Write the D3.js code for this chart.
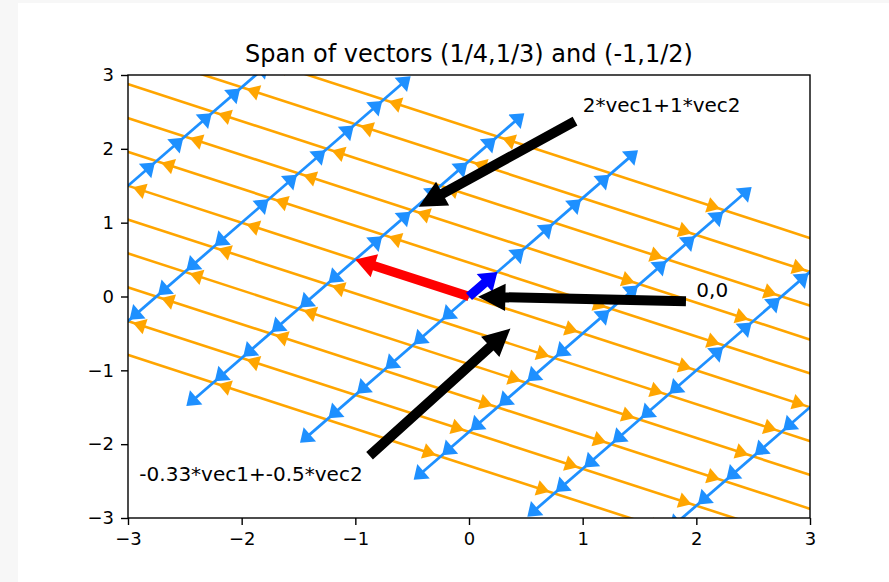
<!DOCTYPE html>
<html>
<head>
<meta charset="utf-8">
<script src="https://cdn.jsdelivr.net/npm/d3@7"></script>
<style>
  body { margin: 0; background: #f7f7f7; }
  svg { display: block; font-family: "DejaVu Sans", sans-serif; }
</style>
</head>
<body>
<svg id="chart" width="889" height="582"></svg>
<script>
// the two spanning vectors
var vec1 = [1/4, 1/3];
var vec2 = [-1, 1/2];

// multiples of vec2 that start a blue line, multiples of vec1 that start an orange line
var blueLines = [-5, -4, -3, -2, -1, 0, 1, 2, 3, 4, 5];
var orangeLines = [-5, -4, -3, -2, -1, 0, 1, 2, 3, 4, 5];
// arrow tips along each line (multiples of the line's own vector)
var blueSteps = [-6, -5, -4, -3, -2, -1, 1, 2, 3, 4, 5, 6];
var orangeSteps = [-6, -5, -4, -3, -2, -1, 1, 2, 3, 4, 5, 6];

var xTicks = [-3, -2, -1, 0, 1, 2, 3];
var yTicks = [-3, -2, -1, 0, 1, 2, 3];

var annotations = [
  {label: "2*vec1+1*vec2", c1: 2, c2: 1, tx: 1, ty: 2.5},
  {label: "0,0", c1: 0, c2: 0, tx: 2, ty: 0},
  {label: "-0.33*vec1+-0.5*vec2", c1: -0.33, c2: -0.5, tx: -2.9, ty: -2.5}
];

var margin = {left: 128, right: 79, top: 75, bottom: 64};
var W = 889, H = 582;

var xs = d3.scaleLinear().domain([-3, 3]).range([margin.left, W - margin.right]);
var ys = d3.scaleLinear().domain([-3, 3]).range([H - margin.bottom, margin.top]);

var svg = d3.select('#chart');

// white figure area (screenshot has a thin grey frame top/left)
svg.append('rect')
  .attr('x', 18).attr('y', 3)
  .attr('width', W - 18).attr('height', H - 3)
  .attr('fill', 'white');

svg.append('clipPath').attr('id', 'clip')
  .append('rect')
  .attr('x', xs(-3)).attr('y', ys(3))
  .attr('width', xs(3) - xs(-3)).attr('height', ys(-3) - ys(3));

function combo(a, b) {
  return [a * vec1[0] + b * vec2[0], a * vec1[1] + b * vec2[1]];
}
function toPx(p) { return [xs(p[0]), ys(p[1])]; }

// triangle head, tip pulled back by gap pixels from the target point
function head(tip, from, len, halfW, gap) {
  var dx = tip[0] - from[0], dy = tip[1] - from[1];
  var d = Math.hypot(dx, dy), ux = dx / d, uy = dy / d;
  var t = [tip[0] - ux * gap, tip[1] - uy * gap];
  var bx = t[0] - ux * len, by = t[1] - uy * len;
  return [t, [bx - uy * halfW, by + ux * halfW], [bx + uy * halfW, by - ux * halfW]];
}

var plot = svg.append('g').attr('clip-path', 'url(#clip)');

function drawFamily(lines, steps, lineCoef, color, gap, hLen, hHalf, lw) {
  var g = plot.append('g');
  lines.forEach(function(k) {
    var pt = function(s) { return lineCoef ? combo(k, s) : combo(s, k); };
    var lo = d3.min(steps), hi = d3.max(steps);
    var a = toPx(pt(lo)), b = toPx(pt(hi));
    var dx = b[0] - a[0], dy = b[1] - a[1], d = Math.hypot(dx, dy);
    var cut = gap + hLen / 2;
    g.append('line')
      .attr('x1', a[0] + dx / d * cut).attr('y1', a[1] + dy / d * cut)
      .attr('x2', b[0] - dx / d * cut).attr('y2', b[1] - dy / d * cut)
      .attr('stroke', color).attr('stroke-width', lw);
    g.selectAll(null)
      .data(steps)
      .enter()
      .append('polygon')
        .attr('points', function(s) {
          var tip = toPx(pt(s));
          var from = toPx(pt(s - Math.sign(s)));
          return head(tip, from, hLen, hHalf, gap).join(' ');
        })
        .attr('fill', color);
  });
}

// orange: along vec2, one line per multiple of vec1
drawFamily(orangeLines, orangeSteps, true, 'orange', 5, 13, 8, 2.6);
// blue: along vec1, one line per multiple of vec2
drawFamily(blueLines, blueSteps, false, 'dodgerblue', 2, 13, 9.5, 2.8);

// thick vectors from the origin
function thickArrow(vec, color, shaftHalf, headHalf, headLen) {
  var s = toPx([0, 0]), e = toPx(vec);
  var dx = e[0] - s[0], dy = e[1] - s[1], d = Math.hypot(dx, dy);
  var ux = dx / d, uy = dy / d, nx = -uy, ny = ux;
  var hx = e[0] - ux * headLen, hy = e[1] - uy * headLen;
  var pts = [
    [s[0] + nx * shaftHalf, s[1] + ny * shaftHalf],
    [hx + nx * shaftHalf, hy + ny * shaftHalf],
    [hx + nx * headHalf, hy + ny * headHalf],
    e,
    [hx - nx * headHalf, hy - ny * headHalf],
    [hx - nx * shaftHalf, hy - ny * shaftHalf],
    [s[0] - nx * shaftHalf, s[1] - ny * shaftHalf]
  ];
  plot.append('polygon').attr('points', pts.join(' ')).attr('fill', color);
}
thickArrow(vec2, 'red', 4.6, 12, 20);
thickArrow(vec1, 'blue', 4.6, 12, 17);

// axes frame
svg.append('rect')
  .attr('x', xs(-3)).attr('y', ys(3))
  .attr('width', xs(3) - xs(-3)).attr('height', ys(-3) - ys(3))
  .attr('fill', 'none').attr('stroke', 'black').attr('stroke-width', 1.4);

var fmt = function(d) { return d < 0 ? '\u2212' + Math.abs(d) : String(d); };

var xAxis = svg.append('g')
  .attr('transform', 'translate(0,' + ys(-3) + ')')
  .call(d3.axisBottom(xs).tickValues(xTicks).tickFormat(fmt).tickSize(7).tickPadding(7));
var yAxis = svg.append('g')
  .attr('transform', 'translate(' + xs(-3) + ',0)')
  .call(d3.axisLeft(ys).tickValues(yTicks).tickFormat(fmt).tickSize(7).tickPadding(7));
[xAxis, yAxis].forEach(function(ax) {
  ax.select('.domain').remove();
  ax.selectAll('line').attr('stroke', 'black').attr('stroke-width', 1.4);
  ax.selectAll('text')
    .attr('fill', 'black')
    .style('font-family', '"DejaVu Sans", sans-serif')
    .style('font-size', '18px');
});

svg.append('text')
  .attr('x', (xs(-3) + xs(3)) / 2)
  .attr('y', 62)
  .attr('text-anchor', 'middle')
  .style('font-size', '24px')
  .text('Span of vectors (1/4,1/3) and (-1,1/2)');

// annotations: arrow from nearest corner/middle of the text box, shrunk 5% at both ends
var ann = svg.append('g');
annotations.forEach(function(d) {
  var txt = ann.append('text')
    .attr('x', xs(d.tx)).attr('y', ys(d.ty))
    .style('font-size', '20px')
    .attr('fill', 'black')
    .text(d.label);
  var bb = txt.node().getBBox();
  var target = toPx(combo(d.c1, d.c2));
  var xc = [bb.x, bb.x + bb.width / 2, bb.x + bb.width];
  var yc = [bb.y, bb.y + bb.height / 2, bb.y + bb.height];
  var sx = xc.reduce(function(m, v) { return Math.abs(v - target[0]) < Math.abs(m - target[0]) ? v : m; });
  var sy = yc.reduce(function(m, v) { return Math.abs(v - target[1]) < Math.abs(m - target[1]) ? v : m; });
  var dx = target[0] - sx, dy = target[1] - sy, r = Math.hypot(dx, dy);
  var ux = dx / r, uy = dy / r, nx = -uy, ny = ux;
  var sh = 0.05 * r;
  var s = [sx + ux * sh, sy + uy * sh], e = [target[0] - ux * sh, target[1] - uy * sh];
  var hl = 24, tw = 4, hw = 12;
  var hx = e[0] - ux * hl, hy = e[1] - uy * hl;
  var pts = [
    [s[0] + nx * tw, s[1] + ny * tw],
    [hx + nx * tw, hy + ny * tw],
    [hx + nx * hw, hy + ny * hw],
    e,
    [hx - nx * hw, hy - ny * hw],
    [hx - nx * tw, hy - ny * tw],
    [s[0] - nx * tw, s[1] - ny * tw]
  ];
  ann.insert('polygon', 'text')
    .attr('points', pts.join(' '))
    .attr('fill', 'black').attr('stroke', 'black').attr('stroke-width', 2)
    .attr('stroke-linejoin', 'miter');
});
</script>
</body>
</html>
